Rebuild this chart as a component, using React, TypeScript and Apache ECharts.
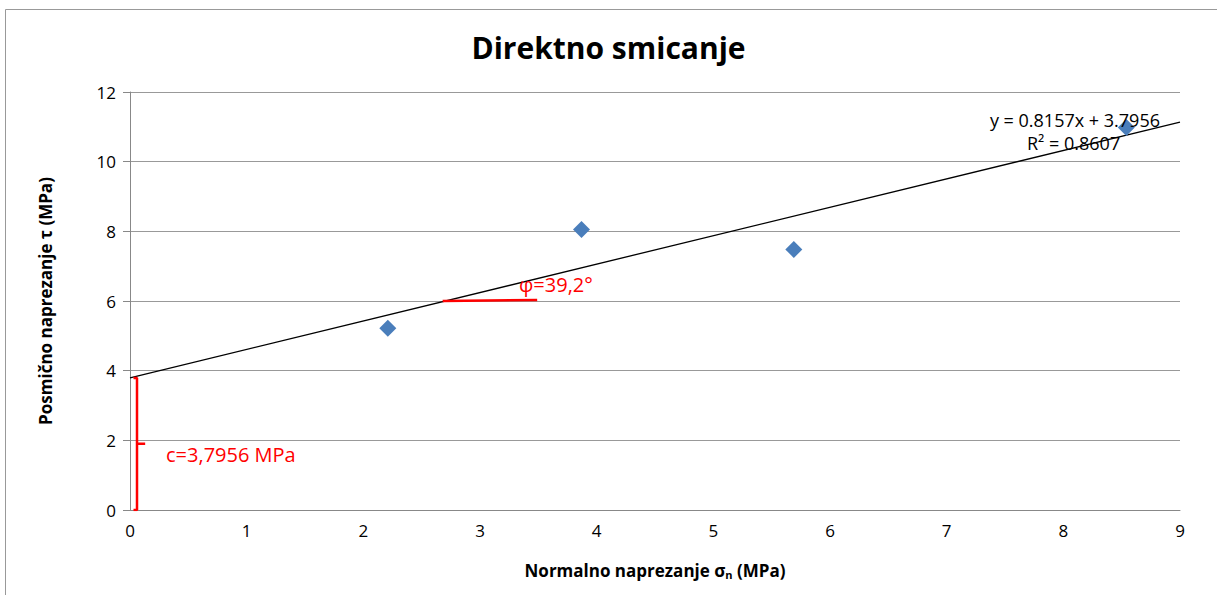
import React, { useEffect, useRef } from "react";
import * as echarts from "echarts";

const sigmaN = [2.21, 3.87, 5.69, 8.54];
const tau = [5.22, 8.05, 7.48, 10.98];
const slope = 0.8157;
const intercept = 3.7956;
const rSquared = 0.8607;
const xTicks = [0, 9, 1];
const yTicks = [0, 12, 2];
const phiLine = [[2.68, 6.0], [3.49, 6.03]];
const cBracket = [[0.03, 3.79], [0.06, 3.79], [0.06, 1.9], [0.13, 1.9], [0.06, 1.9], [0.06, 0], [0.03, 0]];

const FONT = "'Open Sans', 'Noto Sans', sans-serif";

export default function App() {
  const ref = useRef<HTMLDivElement>(null);
  useEffect(() => {
    document.body.style.margin = "0";
    const chart = echarts.init(ref.current!, null, { renderer: "svg" });
    const trend = [
      [xTicks[0], intercept + slope * xTicks[0]],
      [xTicks[1], intercept + slope * xTicks[1]],
    ];
    chart.setOption({
      animation: false,
      textStyle: { fontFamily: FONT },
      title: {
        text: "Direktno smicanje",
        left: "center",
        top: 27,
        textStyle: { fontSize: 30, fontWeight: "bold", color: "#000", fontFamily: FONT },
      },
      grid: { left: 130, right: 37, top: 92, bottom: 85 },
      xAxis: {
        type: "value",
        min: xTicks[0],
        max: xTicks[1],
        interval: xTicks[2],
        name: "Normalno naprezanje σₙ (MPa)",
        nameLocation: "middle",
        nameGap: 52,
        nameTextStyle: { fontSize: 17, fontWeight: "bold", color: "#000", fontFamily: FONT },
        axisLine: { lineStyle: { color: "#888", width: 1 } },
        axisTick: { show: false },
        axisLabel: { fontSize: 17, color: "#000", margin: 12 },
        splitLine: { show: false },
      },
      yAxis: {
        type: "value",
        min: yTicks[0],
        max: yTicks[1],
        interval: yTicks[2],
        name: "Posmično naprezanje τ (MPa)",
        nameLocation: "middle",
        nameGap: 76,
        nameTextStyle: { fontSize: 17, fontWeight: "bold", color: "#000", fontFamily: FONT },
        axisLine: { show: true, lineStyle: { color: "#888", width: 1 } },
        axisTick: { show: true, length: 7, lineStyle: { color: "#888" } },
        axisLabel: { fontSize: 17, color: "#000", margin: 14 },
        splitLine: { lineStyle: { color: "#999", width: 1 } },
      },
      series: [
        {
          type: "line",
          data: trend,
          showSymbol: false,
          lineStyle: { color: "#000", width: 1.3 },
          z: 3,
        },
        {
          type: "scatter",
          data: sigmaN.map((x, i) => [x, tau[i]]),
          symbol: "diamond",
          symbolSize: 17,
          itemStyle: { color: "#4A7EBB", opacity: 1 },
          z: 5,
        },
        {
          type: "line",
          data: phiLine,
          showSymbol: false,
          lineStyle: { color: "#ff0000", width: 2.5 },
          z: 4,
        },
        {
          type: "line",
          data: cBracket,
          showSymbol: false,
          lineStyle: { color: "#ff0000", width: 2.5 },
          z: 4,
        },
      ],
      graphic: [
        {
          type: "rect",
          shape: { x: 5.5, y: 9.5, width: 1300, height: 700 },
          style: { fill: "none", stroke: "#999", lineWidth: 1 },
          silent: true,
        },
        {
          type: "text",
          right: 57,
          top: 111,
          style: {
            text: `y = ${slope}x + ${intercept}`,
            fontSize: 18,
            fill: "#000",
            fontFamily: FONT,
          },
          z: 10,
        },
        {
          type: "text",
          left: 1027,
          top: 134,
          style: {
            text: `R² = ${rSquared}`,
            fontSize: 18,
            fill: "#000",
            fontFamily: FONT,
          },
          z: 10,
        },
        {
          type: "text",
          left: 519,
          top: 274,
          style: { text: "φ=39,2°", fontSize: 20, fill: "#ff0000", fontFamily: FONT },
          z: 10,
        },
        {
          type: "text",
          left: 166,
          top: 444,
          style: { text: "c=3,7956 MPa", fontSize: 20, fill: "#ff0000", fontFamily: FONT },
          z: 10,
        },
      ],
    });
    return () => chart.dispose();
  }, []);
  return <div ref={ref} style={{ width: 1217, height: 595 }} />;
}
